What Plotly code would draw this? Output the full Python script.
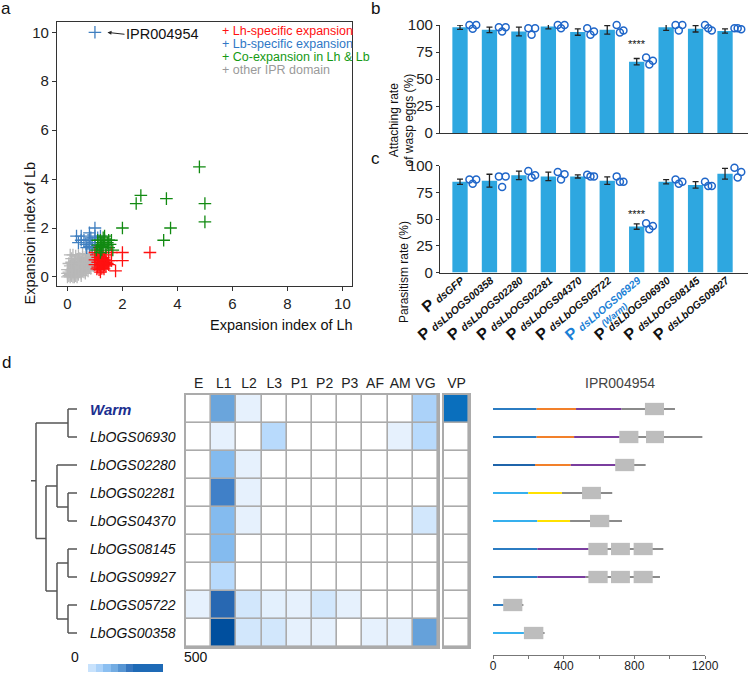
import plotly.graph_objects as go

W, H = 750, 674
FONT = "Liberation Sans, Arial, sans-serif"

# ---------------- Panel a data ----------------
gray_x = [0.0,0.05,0.1,0.1,0.15,0.2,0.2,0.25,0.3,0.3,0.35,0.4,0.4,0.45,0.5,0.5,0.55,0.6,0.6,0.65,0.7,0.7,0.75,0.8,0.8,0.85,0.9,0.9,0.95,1.0,
          0.05,0.1,0.15,0.2,0.25,0.3,0.35,0.4,0.45,0.5,0.55,0.6,0.65,0.7,0.75,0.8,0.85,0.5,0.4,0.3,0.2,0.1,0.15,0.25,0.35,0.45,0.55,0.65,0.6,0.3,
          0.1,0.2,0.4,0.7,0.0,0.0,0.25,0.35,0.5,0.65,0.75,0.85,0.95,1.05,0.9,0.55,0.15,0.05,0.45,0.25]
gray_y = [0.0,0.05,0.0,0.1,0.05,0.0,0.15,0.1,0.05,0.2,0.15,0.1,0.25,0.2,0.15,0.3,0.25,0.2,0.4,0.35,0.3,0.5,0.45,0.4,0.6,0.55,0.5,0.7,0.65,0.6,
          0.2,0.3,0.25,0.35,0.3,0.4,0.35,0.45,0.4,0.5,0.45,0.55,0.6,0.65,0.7,0.75,0.8,0.6,0.6,0.55,0.5,0.45,0.6,0.65,0.7,0.75,0.8,0.8,0.7,0.85,
          0.9,0.9,0.9,0.9,0.15,0.3,0.0,0.0,0.05,0.15,0.25,0.35,0.45,0.55,0.85,0.95,0.75,0.55,0.55,0.45]
blue_x = [1.0,0.33,0.5,0.6,0.67,0.75,0.8,0.9,1.0,1.0,1.0,1.1,0.85,0.7,0.9,1.0,0.5,0.4,0.8,1.2,1.1]
blue_y = [10.0,1.67,1.67,1.5,1.33,1.5,1.25,1.4,2.0,1.67,1.5,1.6,1.6,1.2,1.15,1.25,1.5,1.4,1.8,1.67,1.33]
red_x = [1.0,1.0,1.05,1.1,1.1,1.1,1.15,1.15,1.15,1.2,1.2,1.2,1.2,1.25,1.25,1.25,1.25,1.3,1.3,1.3,1.35,1.35,1.4,1.4,1.4,1.45,1.5,1.5,1.33,1.0,
         1.6,1.6,1.75,2.0,2.0,3.0,1.07,1.17]
red_y = [0.5,0.7,0.9,0.4,0.6,0.8,0.3,0.5,0.7,0.2,0.45,0.65,0.85,0.35,0.55,0.75,1.0,0.4,0.6,0.8,0.5,0.7,0.45,0.6,0.9,0.55,0.5,0.67,0.33,1.0,
         0.67,1.0,0.25,1.0,0.67,1.0,0.33,0.95]
green_x = [1.05,1.1,1.15,1.2,1.25,1.25,1.3,1.3,1.35,1.4,1.45,1.5,1.55,1.6,1.65,1.2,1.35,1.1,1.5,1.25,2.0,2.5,2.67,3.6,4.8,5.0,5.0,3.75,3.5]
green_y = [1.1,1.3,1.2,1.5,1.4,1.1,1.6,1.3,1.5,1.2,1.4,1.5,1.33,1.5,1.1,1.0,1.67,1.5,1.2,1.25,2.0,3.0,3.33,3.2,4.5,3.0,2.25,2.0,1.5]
LEGEND_A = ["Lh-specific expansion", "Lb-specific expansion", "Co-expansion in Lh & Lb", "other IPR domain"]

# ---------------- Panels b, c data ----------------
GENES = ["GFP", "LbOGS00358", "LbOGS02280", "LbOGS02281", "LbOGS04370", "LbOGS05722",
         "LbOGS06929", "LbOGS06930", "LbOGS08145", "LbOGS09927"]
attach_mean = [98, 95.5, 94, 98.5, 93.5, 95.5, 66, 98, 96.5, 94.5]
attach_err = [2, 2.5, 4, 2, 3, 4, 3, 3, 3, 2]
attach_reps = [[100, 100, 96.5], [98, 98, 94], [97, 97, 91], [100, 100, 97], [97, 94, 91],
               [100, 95, 93], [70, 67, 63.5], [100, 100, 95], [100, 95, 97], [97, 96, 97]]
para_mean = [85, 86, 91, 90, 90, 86, 43, 85, 82, 92.5]
para_err = [2.5, 6, 4, 4, 1.5, 3.5, 2.5, 2, 3, 5]
para_reps = [[87, 87, 83], [90, 90, 80], [95, 91, 89], [94, 92, 87], [91.5, 90, 90],
             [90, 85, 85], [46, 43.5, 40.5], [87, 85, 83], [85, 81, 81], [98, 94, 89]]
SIG_INDEX = 6

# ---------------- Panel d data ----------------
ROWS = ["Warm", "LbOGS06930", "LbOGS02280", "LbOGS02281", "LbOGS04370",
        "LbOGS08145", "LbOGS09927", "LbOGS05722", "LbOGS00358"]
COLS = ["E", "L1", "L2", "L3", "P1", "P2", "P3", "AF", "AM", "VG"]
EXPR = [
    [0, 250, 25, 0, 0, 0, 0, 0, 0, 130],
    [0, 25, 0, 110, 0, 0, 0, 0, 25, 110],
    [0, 190, 25, 0, 0, 0, 0, 0, 0, 0],
    [0, 340, 25, 0, 0, 0, 0, 0, 0, 0],
    [0, 190, 25, 0, 0, 0, 0, 0, 0, 60],
    [0, 190, 0, 0, 0, 0, 0, 0, 0, 0],
    [0, 110, 0, 0, 0, 0, 0, 0, 0, 0],
    [25, 390, 60, 30, 25, 60, 25, 0, 0, 0],
    [0, 480, 60, 60, 25, 25, 0, 25, 25, 260],
]
VP = [420, 0, 0, 0, 0, 0, 0, 0, 0]
SCALE_STEPS = [80, 130, 180, 230, 290, 360, 400, 400, 400, 400]

# tree: leaf = (name, branch length); node = (branch length, [children])
TREE = (0.5, [
    (3.2, [("Warm", 0.9), ("LbOGS06930", 0.9)]),
    (1.0, [
        (1.1, [("LbOGS02280", 2.0), (1.1, [("LbOGS02281", 0.9), ("LbOGS04370", 0.9)])]),
        (1.1, [(1.1, [("LbOGS08145", 0.9), ("LbOGS09927", 0.9)]),
               (1.1, [("LbOGS05722", 0.9), ("LbOGS00358", 0.9)])]),
    ]),
])

# protein architecture: segments (start, end, kind) and domains (start, end)
PROT_SEGS = [
    [(0, 247, "blue"), (247, 470, "orange"), (470, 728, "purple"), (728, 1030, "gray")],
    [(0, 247, "blue"), (247, 459, "orange"), (459, 715, "purple"), (715, 1185, "gray")],
    [(0, 238, "dblue"), (238, 440, "orange"), (440, 692, "purple"), (692, 864, "gray")],
    [(0, 200, "lblue"), (200, 390, "yellow"), (390, 675, "gray")],
    [(0, 251, "lblue"), (251, 436, "yellow"), (436, 730, "gray")],
    [(0, 251, "blue"), (251, 540, "purple"), (540, 964, "gray")],
    [(0, 251, "blue"), (251, 525, "purple"), (525, 945, "gray")],
    [(0, 58, "blue"), (58, 172, "gray")],
    [(0, 175, "lblue"), (175, 292, "gray")],
]
PROT_DOMAINS = [
    [(860, 968)],
    [(715, 823), (866, 968)],
    [(692, 800)],
    [(504, 611)],
    [(549, 658)],
    [(540, 649), (668, 775), (796, 904)],
    [(540, 649), (668, 775), (796, 904)],
    [(58, 166)],
    [(175, 285)],
]
SEG_COLORS = {"blue": "#2b7cc2", "dblue": "#1f64aa", "orange": "#f2802a", "purple": "#7a3d9e",
              "lblue": "#36b0ee", "yellow": "#ffe100", "gray": "#8a8a8a"}


def fx(p):
    return p / W


def fy(p):
    return 1 - p / H


fig = go.Figure()

# ---------------- Panel a ----------------
A_COL = {"gray": "#b8b8b8", "blue": "#3f7fc0", "red": "#ff1010", "green": "#118a11"}
for xs, ys, c in [(gray_x, gray_y, A_COL["gray"]), (blue_x, blue_y, A_COL["blue"]),
                  (red_x, red_y, A_COL["red"]), (green_x, green_y, A_COL["green"])]:
    fig.add_trace(go.Scatter(x=xs, y=ys, mode="markers", xaxis="x", yaxis="y",
                             marker=dict(symbol="cross-thin", size=9, color=c, line=dict(width=1.3, color=c)),
                             showlegend=False, hoverinfo="skip", cliponaxis=False))

# ---------------- Panels b & c ----------------
BAR_COLOR = "#2ea7e0"
PT_COLOR = "#1f66c9"
JIT = [0.32, 0.55, 0.43]
idx = list(range(len(GENES)))
for (ax, ay, mean, err, reps) in [("x2", "y2", attach_mean, attach_err, attach_reps),
                                  ("x3", "y3", para_mean, para_err, para_reps)]:
    fig.add_trace(go.Bar(x=idx, y=mean, width=0.52, xaxis=ax, yaxis=ay,
                         marker=dict(color=BAR_COLOR, line=dict(width=0)),
                         error_y=dict(type="data", array=err, color="#222", thickness=1.3, width=3),
                         showlegend=False, hoverinfo="skip"))
    px_, py_ = [], []
    for i, r in enumerate(reps):
        for j, v in enumerate(r):
            px_.append(i + JIT[j])
            py_.append(v)
    fig.add_trace(go.Scatter(x=px_, y=py_, mode="markers", xaxis=ax, yaxis=ay,
                             marker=dict(symbol="circle-open", size=7, color=PT_COLOR, line=dict(width=1.5)),
                             showlegend=False, hoverinfo="skip", cliponaxis=False))

HL = "#1b7fd6"


def tick_label(g, hl):
    c = HL if hl else "#111"
    return (f'<span style="font-size:16px;color:{c}"><b>P</b></span> '
            f'<span style="font-size:10.5px;color:{c}"><b><i>ds{g}</i></b></span>')


bar_ticks = [tick_label(g, i == SIG_INDEX) for i, g in enumerate(GENES)]

# ---------------- Panel d: tree ----------------
tree_x, tree_y = [], []
leaf_counter = [0]


def walk(node, xparent):
    if isinstance(node[0], str):
        name, bl = node
        y = leaf_counter[0]
        leaf_counter[0] += 1
        tree_x.extend([xparent, xparent + bl, None])
        tree_y.extend([y, y, None])
        return y
    bl, kids = node
    xn = xparent + bl
    ys = [walk(k, xn) for k in kids]
    yn = (min(ys) + max(ys)) / 2
    tree_x.extend([xparent, xn, None, xn, xn, None])
    tree_y.extend([yn, yn, None, min(ys), max(ys), None])
    return yn


root_stub, root_kids = TREE
ys_root = [walk(k, 0.0) for k in root_kids]
yr = (min(ys_root) + max(ys_root)) / 2
tree_x.extend([-root_stub, 0, None, 0, 0, None])
tree_y.extend([yr, yr, None, min(ys_root), max(ys_root), None])
fig.add_trace(go.Scatter(x=tree_x, y=tree_y, mode="lines", xaxis="x4", yaxis="y4",
                         line=dict(color="#555", width=1.5), showlegend=False, hoverinfo="skip"))

# ---------------- Panel d: heatmaps ----------------
CSCALE = [[0, "#ffffff"], [0.02, "#f3f8ff"], [0.05, "#e6f1fd"], [0.12, "#d2e7fc"], [0.22, "#b8dafc"],
          [0.38, "#84bbef"], [0.5, "#6aa5dc"], [0.68, "#4080c8"], [0.78, "#2868b2"],
          [0.84, "#0a6fbd"], [0.96, "#004f9e"], [1, "#004a98"]]
fig.add_trace(go.Heatmap(z=EXPR, x=list(range(len(COLS))), y=list(range(len(ROWS))),
                         xaxis="x5", yaxis="y5", colorscale=CSCALE, zmin=0, zmax=500,
                         showscale=False, xgap=1.6, ygap=1.6, hoverinfo="skip"))
fig.add_trace(go.Heatmap(z=[[v] for v in VP], x=[0], y=list(range(len(ROWS))),
                         xaxis="x6", yaxis="y6", colorscale=CSCALE, zmin=0, zmax=500,
                         showscale=False, xgap=1.6, ygap=1.6, hoverinfo="skip"))
fig.add_trace(go.Heatmap(z=[SCALE_STEPS], x=list(range(len(SCALE_STEPS))), y=[0],
                         xaxis="x8", yaxis="y8", colorscale=CSCALE, zmin=0, zmax=500,
                         showscale=False, hoverinfo="skip"))

# ---------------- Panel d: protein architecture ----------------
seg_groups = {}
for i, segs in enumerate(PROT_SEGS):
    for (s, e, k) in segs:
        gx, gy = seg_groups.setdefault(k, ([], []))
        gx.extend([s, e, None])
        gy.extend([i, i, None])
for k, (gx, gy) in seg_groups.items():
    fig.add_trace(go.Scatter(x=gx, y=gy, mode="lines", xaxis="x7", yaxis="y7",
                             line=dict(color=SEG_COLORS[k], width=2), showlegend=False, hoverinfo="skip"))

shapes = []
for i, doms in enumerate(PROT_DOMAINS):
    for (s, e) in doms:
        shapes.append(dict(type="rect", xref="x7", yref="y7", x0=s, x1=e, y0=i - 0.22, y1=i + 0.22,
                           fillcolor="#bdbdbd", line=dict(width=0), layer="above"))
for ax in ["x5", "x6"]:
    shapes.append(dict(type="rect", xref=f"{ax} domain", yref=f"y{ax[1:]} domain", x0=0, x1=1, y0=0, y1=1,
                       fillcolor="#ababab", line=dict(width=0), layer="below"))

# ---------------- Layout ----------------
HM_TOP, HM_BOT = 395, 647
row_h = (HM_BOT - HM_TOP) / len(ROWS)
prot_bot = 655
prot_range_bottom = (prot_bot - HM_TOP) / row_h - 0.5

noaxis = dict(showgrid=False, zeroline=False, showticklabels=False, ticks="", showline=False, automargin=False)
AM = dict(automargin=False)

layout = dict(
    width=W, height=H, margin=dict(l=0, r=0, t=0, b=0, pad=0, autoexpand=False),
    paper_bgcolor="white", plot_bgcolor="white",
    font=dict(family=FONT, color="#222", size=14),
    showlegend=False, shapes=shapes,
    # panel a
    xaxis=dict(anchor="y", domain=[fx(57), fx(352)], range=[-0.38, 10.35], tickvals=[0, 2, 4, 6, 8, 10],
               showline=True, mirror=True, linecolor="#333", linewidth=1.2, ticks="outside", ticklen=4,
               tickcolor="#333", tickfont=dict(size=15), showgrid=False, zeroline=False, **AM),
    yaxis=dict(anchor="x", domain=[fy(286), fy(22)], range=[-0.37, 10.42], tickvals=[0, 2, 4, 6, 8, 10],
               showline=True, mirror=True, linecolor="#333", linewidth=1.2, ticks="outside", ticklen=4,
               tickcolor="#333", tickfont=dict(size=15), showgrid=False, zeroline=False, **AM),
    # panel b
    xaxis2=dict(anchor="y2", domain=[fx(440), fx(748)], range=[-0.68, 9.78], showline=True, linecolor="#333",
                linewidth=1.2, showticklabels=False, ticks="", showgrid=False, zeroline=False, **AM),
    yaxis2=dict(anchor="x2", domain=[fy(133), fy(25)], range=[0, 100], tickvals=[0, 25, 50, 75, 100], showline=True,
                linecolor="#333", linewidth=1.2, ticks="outside", ticklen=3, tickcolor="#333",
                tickfont=dict(size=15), showgrid=False, zeroline=False, **AM),
    # panel c
    xaxis3=dict(anchor="y3", domain=[fx(440), fx(748)], range=[-0.68, 9.78], showline=True, linecolor="#333",
                linewidth=1.2, tickvals=idx, ticktext=bar_ticks, tickangle=-40, ticks="",
                ticklabelstandoff=-8,
                tickfont=dict(size=15, color="#111"), showgrid=False, zeroline=False, **AM),
    yaxis3=dict(anchor="x3", domain=[fy(272.5), fy(165.7)], range=[0, 100], tickvals=[0, 25, 50, 75, 100], showline=True,
                linecolor="#333", linewidth=1.2, ticks="outside", ticklen=3, tickcolor="#333",
                tickfont=dict(size=15), showgrid=False, zeroline=False, **AM),
    # tree
    xaxis4=dict(anchor="y4", domain=[fx(28), fx(80)], range=[-0.8, 4.4], **noaxis),
    yaxis4=dict(anchor="x4", domain=[fy(HM_BOT), fy(HM_TOP)], range=[len(ROWS) - 0.5, -0.5], **noaxis),
    # heatmap
    xaxis5=dict(anchor="y5", domain=[fx(186), fx(438)], range=[-0.5, len(COLS) - 0.5], side="top",
                tickvals=list(range(len(COLS))), ticktext=COLS, ticks="", showgrid=False, zeroline=False,
                showline=True, mirror=True, linecolor="#ababab", linewidth=1.6,
                tickfont=dict(size=14, color="#222"), **AM),
    yaxis5=dict(anchor="x5", domain=[fy(HM_BOT), fy(HM_TOP)], range=[len(ROWS) - 0.5, -0.5], showticklabels=False,
                ticks="", showgrid=False, zeroline=False, showline=True, mirror=True,
                linecolor="#ababab", linewidth=1.6, **AM),
    xaxis6=dict(anchor="y6", domain=[fx(444), fx(469)], range=[-0.5, 0.5], side="top", tickvals=[0], ticktext=["VP"],
                ticks="", showgrid=False, zeroline=False, showline=True, mirror=True,
                linecolor="#ababab", linewidth=1.6, tickfont=dict(size=14, color="#222"), **AM),
    yaxis6=dict(anchor="x6", domain=[fy(HM_BOT), fy(HM_TOP)], range=[len(ROWS) - 0.5, -0.5], showticklabels=False,
                ticks="", showgrid=False, zeroline=False, showline=True, mirror=True,
                linecolor="#ababab", linewidth=1.6, **AM),
    # protein architecture
    xaxis7=dict(anchor="y7", domain=[fx(493), fx(705)], range=[0, 1200], tickvals=[0, 200, 400, 600, 800, 1000, 1200],
                ticktext=["0", "", "400", "", "800", "", "1200"], showline=True, linecolor="#777",
                linewidth=1.2, ticks="outside", ticklen=3, tickcolor="#777", tickfont=dict(size=12, color="#222"),
                ticklabelstandoff=-4, showgrid=False, zeroline=False, **AM),
    yaxis7=dict(anchor="x7", domain=[fy(prot_bot), fy(HM_TOP)], range=[prot_range_bottom, -0.5], **noaxis),
    # colour key
    xaxis8=dict(anchor="y8", domain=[fx(88), fx(163)], range=[-0.5, len(SCALE_STEPS) - 0.5], **noaxis),
    yaxis8=dict(anchor="x8", domain=[fy(672), fy(664)], range=[-0.5, 0.5], **noaxis),
)

ann = []
# panel letters
for t, x, y in [("a", 6, 9), ("b", 375, 9), ("c", 375, 158), ("d", 6, 362)]:
    ann.append(dict(text=t, x=fx(x), y=fy(y), xref="paper", yref="paper", showarrow=False,
                    font=dict(size=17, color="#111"), xanchor="center", yanchor="middle"))
# panel a titles & legend
ann.append(dict(text="Expansion index of Lh", x=fx(208), y=fy(325), xref="paper", yref="paper",
                showarrow=False, font=dict(size=14.5, color="#111")))
ann.append(dict(text="Expansion index of Lb", x=fx(19), y=fy(160), xref="paper", yref="paper",
                showarrow=False, textangle=-90, font=dict(size=14.5, color="#111")))
for k, (txt, c, yy) in enumerate(zip(LEGEND_A, ["#ff1010", "#2f78c6", "#149a14", "#9a9a9a"], [31, 44, 57, 70])):
    ann.append(dict(text="+ " + txt, x=fx(220), y=fy(yy), xref="paper", yref="paper", showarrow=False,
                    xanchor="left", yanchor="middle", font=dict(size=12.5, color=c)))
ann.append(dict(text="IPR004954", x=1.42, y=10.0, xref="x", yref="y", ax=18, ay=2,
                showarrow=True, arrowhead=2, arrowsize=0.8, arrowwidth=1, arrowcolor="#222", standoff=1,
                xanchor="left", font=dict(size=14.5, color="#111")))
# panels b, c
ann.append(dict(text="Attaching rate<br>of wasp eggs (%)", x=fx(401), y=fy(71), xref="paper", yref="paper",
                showarrow=False, textangle=-90, font=dict(size=12, color="#111")))
ann.append(dict(text="Parasitism rate (%)", x=fx(404), y=fy(219), xref="paper", yref="paper",
                showarrow=False, textangle=-90, font=dict(size=12, color="#111")))
for ax, ay, yv in [("x2", "y2", attach_mean[SIG_INDEX] + attach_err[SIG_INDEX] + 13),
                   ("x3", "y3", para_mean[SIG_INDEX] + para_err[SIG_INDEX] + 9)]:
    ann.append(dict(text="****", x=SIG_INDEX, y=yv, xref=ax, yref=ay, showarrow=False,
                    font=dict(size=11, color="#111")))
ann.append(dict(text="<b><i>(Warm)</i></b>", x=fx(632), y=fy(315), xref="paper", yref="paper",
                showarrow=False, textangle=-40, font=dict(size=9, color=HL)))
# panel d labels
for i, r in enumerate(ROWS):
    if r == "Warm":
        txt, f = "<b><i>Warm</i></b>", dict(size=15, color="#1c2f8f")
    else:
        txt, f = f"<i>{r}</i>", dict(size=14, color="#111")
    ann.append(dict(text=txt, x=fx(88), y=i, xref="paper", yref="y5", showarrow=False,
                    xanchor="left", yanchor="middle", font=f))
ann.append(dict(text="IPR004954", x=fx(657), y=fy(383), xref="paper", yref="paper", showarrow=False,
                font=dict(size=14, color="#444")))
ann.append(dict(text="0", x=fx(69), y=fy(667), xref="paper", yref="paper", showarrow=False,
                font=dict(size=14, color="#111")))
ann.append(dict(text="500", x=fx(182), y=fy(667), xref="paper", yref="paper", showarrow=False,
                font=dict(size=14, color="#111")))
layout["annotations"] = ann

fig.update_layout(**layout)
fig.write_html("out.html", config={"displayModeBar": False},
               post_script="document.body.style.margin='0px';")
